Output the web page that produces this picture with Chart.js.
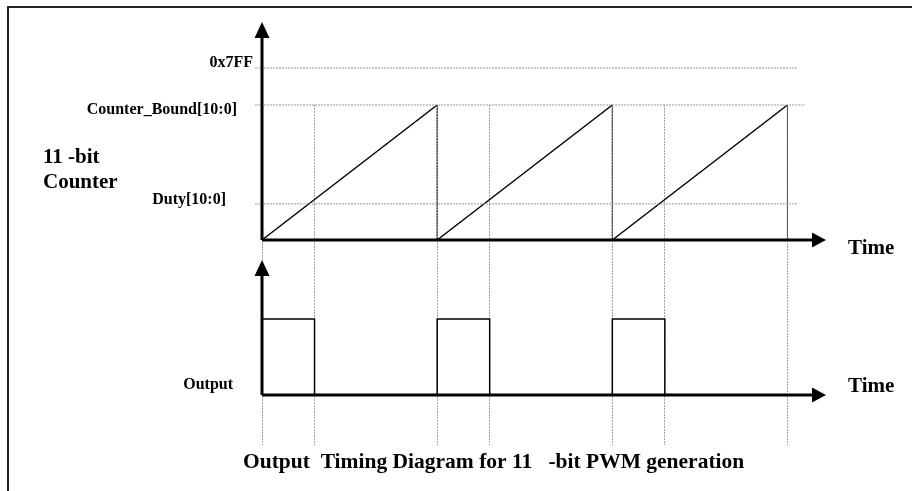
<!DOCTYPE html>
<html>
<head>
<meta charset="utf-8">
<script src="https://cdn.jsdelivr.net/npm/chart.js@4/dist/chart.umd.min.js"></script>
<style>
  body { margin: 0; background: #fff; }
  canvas { display: block; }
</style>
</head>
<body>
<canvas id="timing" width="912" height="491"></canvas>
<script>
// time in tenths of a PWM period, counter in raw 11-bit counts
const counterT = [0, 10, 10, 20, 20, 30, 30];
const counterV = [0, 1607, 0, 1607, 0, 1607, 0];
const outputT = [0, 0, 3, 3, 10, 10, 13, 13, 20, 20, 23, 23];
const outputV = [0, 1, 1, 0, 0, 1, 1, 0, 0, 1, 1, 0];
const guideT = [0, 3, 10, 13, 20, 23, 30];
const levelNames = ["0x7FF", "Counter_Bound[10:0]", "Duty[10:0]"];
const levelV = [2047, 1607, 430];
const levelFrom = [-0.4, -0.4, -0.4];
const levelTo = [30.6, 31, 30.6];
const timeMax = 32.2;

const SERIF = '"Liberation Serif", "Times New Roman", serif';

// pick min/max so that value v0 lands on pixel p0 and v1 on p1
function fitRange(v0, p0, v1, p1, top, bottom) {
    const k = (p0 - p1) / (v1 - v0);
    return { min: v0 - (bottom - p0) / k, max: v0 + (p0 - top) / k };
}
const areaTop = 105, areaBottom = 445;
const counterRange = fitRange(0, 240, 2047, 68, areaTop, areaBottom);
const outputRange = fitRange(0, 395, 1, 319, areaTop, areaBottom);

const pts = (xs, ys) => xs.map((x, i) => ({ x: x, y: ys[i] }));

const datasets = [];
levelV.forEach((v, i) => {
    datasets.push({
        data: [{ x: levelFrom[i], y: v }, { x: levelTo[i], y: v }],
        yAxisID: "y",
        borderColor: "#999",
        borderWidth: 1,
        borderDash: [2, 1],
        pointRadius: 0,
        clip: false
    });
});
datasets.push({
    data: pts(counterT, counterV),
    yAxisID: "y",
    borderColor: "#000",
    borderWidth: 1.5,
    pointRadius: 0,
    clip: false,
    segment: {
        borderDash: c => c.p0.parsed.x === c.p1.parsed.x ? [2, 1] : undefined,
        borderColor: c => c.p0.parsed.x === c.p1.parsed.x ? "#555" : undefined,
        borderWidth: c => c.p0.parsed.x === c.p1.parsed.x ? 1 : undefined
    }
});
datasets.push({
    data: pts(outputT, outputV),
    yAxisID: "y2",
    borderColor: "#000",
    borderWidth: 1.5,
    pointRadius: 0,
    clip: false
});

function arrow(ctx, tipX, tipY, dir) {
    ctx.beginPath();
    if (dir === "up") {
        ctx.moveTo(tipX, tipY);
        ctx.lineTo(tipX - 7.5, tipY + 16);
        ctx.lineTo(tipX + 7.5, tipY + 16);
    } else {
        ctx.moveTo(tipX, tipY);
        ctx.lineTo(tipX - 14, tipY - 7.5);
        ctx.lineTo(tipX - 14, tipY + 7.5);
    }
    ctx.closePath();
    ctx.fill();
}

const diagramPlugin = {
    id: "diagram",
    beforeDraw(chart) {
        const ctx = chart.ctx;
        ctx.save();
        ctx.strokeStyle = "#222";
        ctx.lineWidth = 2;
        ctx.strokeRect(8, 7, 1000, 1000);
        ctx.restore();
    },
    afterDatasetsDraw(chart) {
        const ctx = chart.ctx;
        const xs = chart.scales.x, ys = chart.scales.y, y2 = chart.scales.y2;
        const x0 = xs.getPixelForValue(0);
        const xEnd = xs.getPixelForValue(timeMax);
        const topBase = ys.getPixelForValue(0);
        const botBase = y2.getPixelForValue(0);
        ctx.save();
        ctx.strokeStyle = "#000";
        ctx.fillStyle = "#000";
        ctx.lineWidth = 3;
        ctx.beginPath();
        ctx.moveTo(x0, topBase); ctx.lineTo(x0, 36);
        ctx.moveTo(x0, topBase); ctx.lineTo(xEnd - 12, topBase);
        ctx.moveTo(x0, botBase); ctx.lineTo(x0, 272);
        ctx.moveTo(x0, botBase); ctx.lineTo(xEnd - 12, botBase);
        ctx.stroke();
        arrow(ctx, x0, 22, "up");
        arrow(ctx, x0, 260, "up");
        arrow(ctx, xEnd, topBase, "right");
        arrow(ctx, xEnd, botBase, "right");

        ctx.font = "bold 16px " + SERIF;
        ctx.textAlign = "right";
        ctx.textBaseline = "alphabetic";
        const rightEdge = [253, 237, 226];
        const shift = [-1, 9, 0];
        levelNames.forEach((name, i) => {
            ctx.fillText(name, rightEdge[i], ys.getPixelForValue(levelV[i]) + shift[i]);
        });
        ctx.fillText("Output", 233, botBase - 6);

        ctx.textAlign = "left";
        ctx.font = "bold 21px " + SERIF;
        ctx.fillText("11 -bit", 43, 163);
        ctx.fillText("Counter", 43, 188);
        ctx.fillText("Time", 848, topBase + 14);
        ctx.fillText("Time", 848, botBase - 3);

        ctx.font = "bold 21.5px " + SERIF;
        ctx.fillText("Output  Timing Diagram for 11   -bit PWM generation", 243, 468);
        ctx.restore();
    }
};

new Chart(document.getElementById("timing").getContext("2d"), {
    type: "line",
    data: { datasets: datasets },
    options: {
        responsive: false,
        animation: false,
        layout: { padding: { left: 262, right: 912 - 826, top: areaTop, bottom: 491 - areaBottom } },
        plugins: { legend: { display: false }, tooltip: { enabled: false } },
        scales: {
            x: {
                type: "linear",
                min: 0,
                max: timeMax,
                afterBuildTicks: s => { s.ticks = guideT.map(v => ({ value: v })); },
                afterFit: s => { s.height = 0; },
                ticks: { display: false },
                grid: { color: "#a0a0a0", lineWidth: 1, drawTicks: false },
                border: { display: false, dash: [2, 1] }
            },
            y: { type: "linear", display: false, min: counterRange.min, max: counterRange.max },
            y2: { type: "linear", display: false, min: outputRange.min, max: outputRange.max }
        }
    },
    plugins: [diagramPlugin]
});
</script>
</body>
</html>
